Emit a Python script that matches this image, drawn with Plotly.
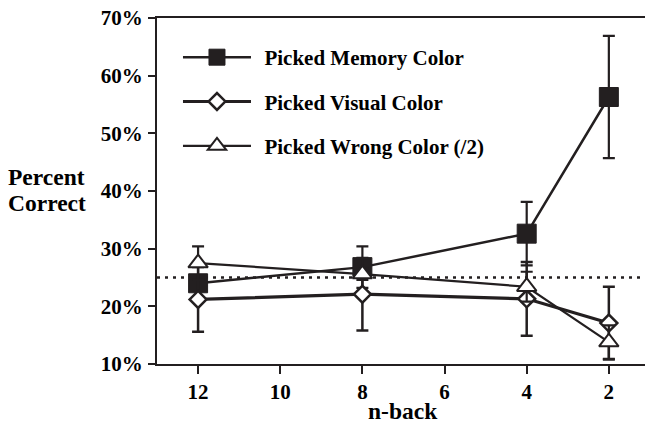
import plotly.graph_objects as go

# ---- data ----
n_back = [12, 8, 4, 2]
memory = [24.0, 26.8, 32.6, 56.3]
memory_err = [1.2, 3.6, 5.5, 10.6]
visual = [21.2, 22.1, 21.3, 17.1]
visual_err = [5.6, 6.3, 6.4, 6.3]
wrong = [27.5, 25.6, 23.4, 13.8]
wrong_err = [2.9, 1.0, 2.6, 2.9]
chance = 25
y_ticks = [10, 20, 30, 40, 50, 60, 70]
y_tick_labels = ["10%", "20%", "30%", "40%", "50%", "60%", "70%"]
x_ticks = [12, 10, 8, 6, 4, 2]
x_tick_labels = ["12", "10", "8", "6", "4", "2"]

INK = "#231f20"
FONT = "Liberation Serif"
PAD = "\u2009\u2009"

fig = go.Figure()

fig.add_trace(go.Scatter(
    x=n_back, y=memory, name=PAD + "Picked Memory Color", legendgroup="a",
    mode="lines+markers",
    line=dict(color=INK, width=2.5),
    marker=dict(symbol="square", size=19, color=INK, line=dict(color=INK, width=1)),
    error_y=dict(type="data", array=memory_err, color=INK, thickness=2.2, width=6),
))
fig.add_trace(go.Scatter(
    x=n_back, y=visual, name=PAD + "Picked Visual Color", legendgroup="b",
    mode="lines+markers",
    line=dict(color=INK, width=3.2),
    marker=dict(symbol="diamond", size=13, color="white", line=dict(color=INK, width=2.5)),
    error_y=dict(type="data", array=visual_err, color=INK, thickness=2.5, width=6),
))
fig.add_trace(go.Scatter(
    x=n_back, y=wrong, name=PAD + "Picked Wrong Color (/2)", legendgroup="c",
    mode="lines+markers",
    line=dict(color=INK, width=2.2),
    marker=dict(symbol="triangle-up", size=17, color="white", line=dict(color=INK, width=2)),
    error_y=dict(type="data", array=wrong_err, color=INK, thickness=2.2, width=6),
))

fig.add_shape(type="line", xref="paper", x0=0, x1=1, yref="y", y0=chance, y1=chance,
              line=dict(color=INK, width=2.5, dash="3px,5px"), layer="below")

title_font = dict(family=FONT, size=23.5, color="black", weight="bold")
fig.add_annotation(text="Percent", xref="paper", yref="paper",
                   x=-0.309, y=0.5405, xanchor="left", yanchor="middle",
                   showarrow=False, font=title_font)
fig.add_annotation(text="Correct", xref="paper", yref="paper",
                   x=-0.309, y=0.4653, xanchor="left", yanchor="middle",
                   showarrow=False, font=title_font)
fig.add_annotation(text="n-back", xref="paper", yref="paper",
                   x=0.505, y=-0.137, xanchor="center", yanchor="middle",
                   showarrow=False, font=title_font)

fig.update_layout(
    width=645, height=423,
    margin=dict(l=157, r=0, t=18, b=59),
    paper_bgcolor="white", plot_bgcolor="white",
    font=dict(family=FONT, color="black"),
    showlegend=True,
    legend=dict(x=0.043, y=0.945, xanchor="left", yanchor="top",
                bgcolor="rgba(0,0,0,0)", itemwidth=68, tracegroupgap=14,
                font=dict(family=FONT, size=21, color="black", weight="bold")),
    xaxis=dict(range=[13.0, 1.12], tickvals=x_ticks, ticktext=x_tick_labels,
               automargin=False,
               showgrid=False, zeroline=False, showline=True, linecolor=INK, linewidth=2,
               mirror=True, ticks="outside", ticklen=8, tickwidth=2, tickcolor=INK,
               tickfont=dict(family=FONT, size=21, color="black", weight="bold")),
    yaxis=dict(range=[10, 70], tickvals=y_ticks, ticktext=y_tick_labels,
               automargin=False, ticklabeloverflow="allow", ticklabelstandoff=1,
               showgrid=False, zeroline=False, showline=True, linecolor=INK, linewidth=2,
               ticks="outside", ticklen=7, tickwidth=2, tickcolor=INK,
               tickfont=dict(family=FONT, size=21, color="black", weight="bold")),
)

fig.write_html(
    "out.html",
    config={"displayModeBar": False},
    post_script="document.body.style.margin='0';document.body.style.overflow='hidden';",
)
